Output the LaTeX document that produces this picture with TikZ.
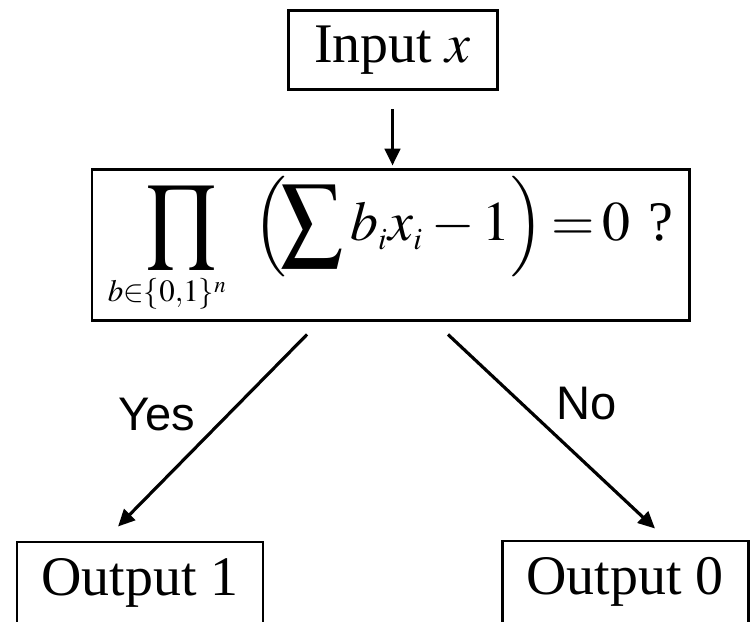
\documentclass[tikz,border=0pt]{standalone}
\usepackage{mathptmx}
\usepackage{graphicx}
\usepackage{fontspec}
\setmainfont{Liberation Serif}
\newfontfamily\labelfont{Liberation Sans}
\usetikzlibrary{arrows.meta}
\DeclareMathSizes{15.9}{15.9}{8.8}{6.5}
\newcommand{\bigprod}{\mathop{\vcenter{\hbox{\scalebox{1.05}[1.2]{$\displaystyle\prod$}}}}\limits}
\newcommand{\bigsum}{\mathop{\vcenter{\hbox{\scalebox{1.1}[1.2]{$\displaystyle\sum$}}}}}

\begin{document}
\begin{tikzpicture}[
    box/.style={draw, line width=0.85pt, inner sep=0pt, font=\fontsize{15.9}{19}\selectfont},
    flow/.style={line width=0.9pt, -{Triangle[length=4.8pt,width=4.4pt]}},
    answer/.style={font=\labelfont\fontsize{13.4}{16}\selectfont}
]
    \useasboundingbox (0,0) rectangle (7.51,6.21);

    % Boxes
    \node[box, minimum width=2.09cm, minimum height=0.79cm] (input) at (3.925,5.705) {Input $x$};
    \node[box, minimum width=5.97cm, minimum height=1.51cm] (test) at (3.905,3.755)
        {$\displaystyle\bigprod_{b\in\{0,1\}^n\hspace{7.5pt}}\Bigl(\!\bigsum b_i x_i - 1\Bigr)\mkern-1.5mu=\mkern-1.5mu0$\hspace{5pt}?};
    \node[box, minimum width=2.46cm, minimum height=0.82cm] (one) at (1.40,0.38) {Output 1};
    \node[box, minimum width=2.46cm, minimum height=0.82cm] (zero) at (6.25,0.39) {Output 0};

    % Arrows
    \draw[flow] ([yshift=-0.18cm]input.south) -- ([yshift=0.03cm]input.south |- test.north);
    \draw[flow] ([shift={(-0.835,-0.12)}]test.south) -- ([shift={(-0.22,0.14)}]one.north);
    \draw[flow] ([shift={(0.575,-0.12)}]test.south) -- ([shift={(0.30,0.11)}]zero.north);

    % Answers
    \node[answer] (yes) at (1.57,2.06) {Yes};
    \node[answer] (no) at (5.87,2.17) {No};
\end{tikzpicture}
\end{document}
